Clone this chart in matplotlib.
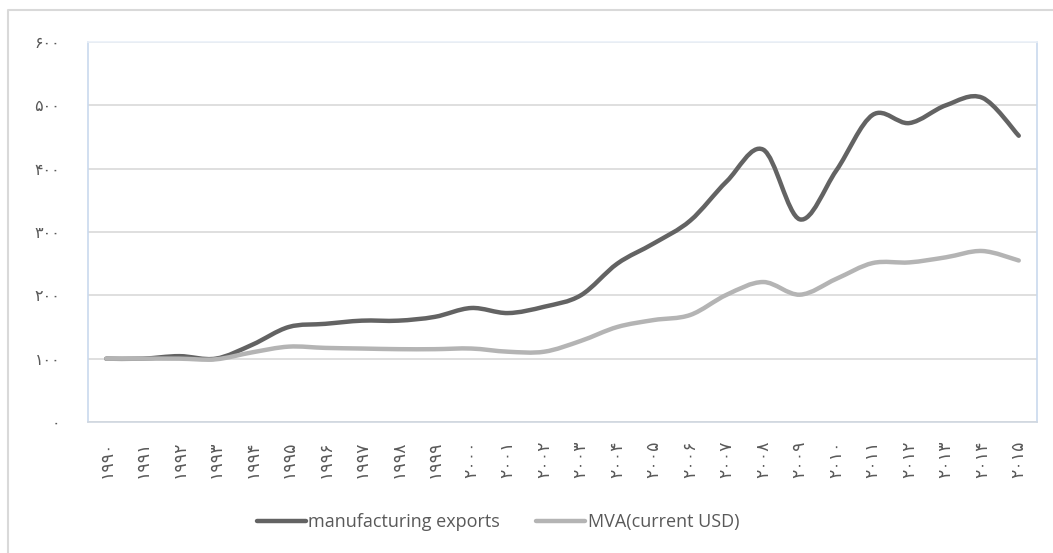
import matplotlib
matplotlib.use("Agg")
import matplotlib.pyplot as plt
from matplotlib.path import Path
from matplotlib.patches import PathPatch
from matplotlib.lines import Line2D
import numpy as np

years = list(range(1990, 2016))
manufacturing_exports = [100, 100, 104, 100, 122, 150, 155, 160, 160, 166, 180, 172,
                         182, 200, 250, 282, 318, 380, 430, 320, 397, 485, 472, 500, 512, 452]
mva = [100, 100, 100, 99, 110, 119, 117, 116, 115, 115, 116, 111,
       111, 128, 150, 161, 169, 201, 221, 201, 226, 251, 252, 260, 270, 255]
y_ticks = [0, 100, 200, 300, 400, 500, 600]
series_names = ["manufacturing exports", "MVA(current USD)"]
colors = ["#636363", "#b4b4b4"]

PERSIAN = str.maketrans("0123456789", "۰۱۲۳۴۵۶۷۸۹")
def fa(n):
    return str(n).translate(PERSIAN)

def smooth_path(xs, ys, t=1/6):
    xs = np.asarray(xs, float); ys = np.asarray(ys, float)
    n = len(xs)
    verts = [(xs[0], ys[0])]
    codes = [Path.MOVETO]
    for i in range(n - 1):
        p0 = np.array([xs[max(i - 1, 0)], ys[max(i - 1, 0)]])
        p1 = np.array([xs[i], ys[i]])
        p2 = np.array([xs[i + 1], ys[i + 1]])
        p3 = np.array([xs[min(i + 2, n - 1)], ys[min(i + 2, n - 1)]])
        c1 = p1 + (p2 - p0) * t
        c2 = p2 - (p3 - p1) * t
        verts += [tuple(c1), tuple(c2), tuple(p2)]
        codes += [Path.CURVE4] * 3
    return Path(verts, codes)

fig = plt.figure(figsize=(10.53, 5.53), dpi=100)
ax = fig.add_axes([88/1053, 1 - 422/553, (1037 - 88)/1053, (422 - 42)/553])

x = np.arange(len(years))
for vals, c in zip([manufacturing_exports, mva], colors):
    ax.add_patch(PathPatch(smooth_path(x, vals), facecolor="none", edgecolor=c,
                           lw=3.2, capstyle="round", joinstyle="round", zorder=3))

ax.set_xlim(-0.5, len(years) - 0.5)
ax.set_ylim(0, 600)
ax.set_yticks(y_ticks)
ax.set_yticklabels([fa(v) for v in y_ticks], family=["DejaVu Sans"], fontsize=11.5, color="#595959")
ax.set_xticks(x)
ax.set_xticklabels([fa(y) for y in years], rotation=90, family=["DejaVu Sans"],
                   fontsize=12.5, color="#595959")
ax.tick_params(axis="both", length=0)
ax.tick_params(axis="y", pad=20)
ax.tick_params(axis="x", pad=13)
ax.grid(axis="y", color="#d9d9d9", lw=1.2)
ax.set_axisbelow(True)
ax.spines["top"].set_color("#eaf0f8")
ax.spines["left"].set_color("#c9d9ee")
ax.spines["right"].set_color("#c9d9ee")
ax.spines["bottom"].set_color("#d0d7e0")
for s in ax.spines.values():
    s.set_linewidth(1.2)

handles = [Line2D([0], [0], color=c, lw=3.2, solid_capstyle="round") for c in colors]
fig.legend(handles, series_names, loc="center", bbox_to_anchor=(498/1053, 1 - 522/553),
           ncol=2, frameon=False, prop={"family": "Open Sans", "size": 13},
           handlelength=2.7, handletextpad=0.15, columnspacing=2.0, labelcolor="#595959")

# outer chart-area border (only top and left edges visible)
fig.add_artist(Line2D([8/1053, 8/1053, 1.0], [0.0, 1 - 10/553, 1 - 10/553],
                      transform=fig.transFigure, color="#d9d9d9", lw=1.5))

fig.savefig("out.png", dpi=100)
